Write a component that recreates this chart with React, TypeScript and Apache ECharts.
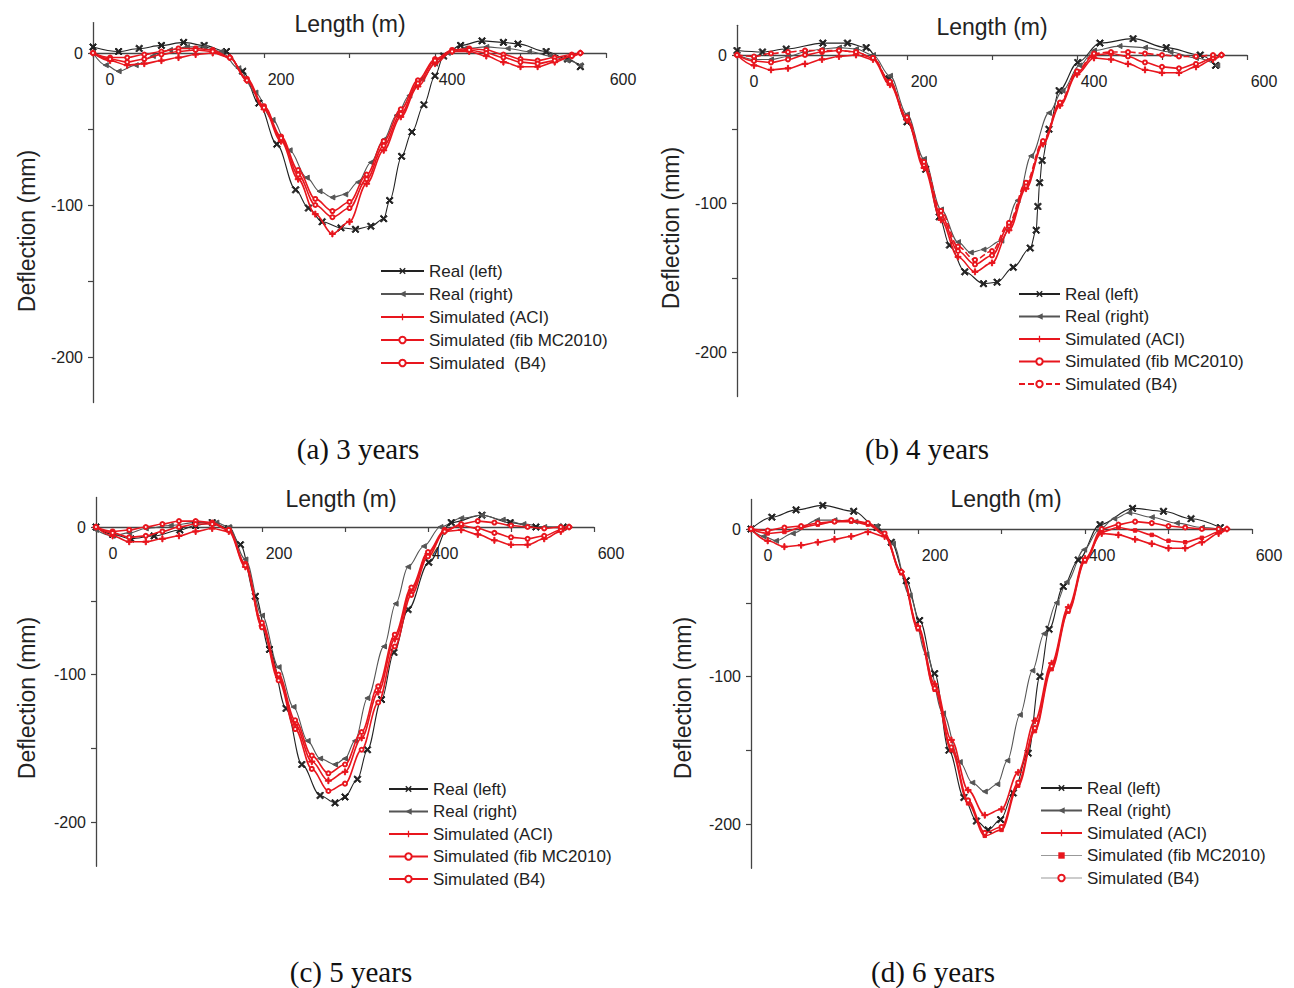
import React, { useEffect, useRef } from "react";
import * as echarts from "echarts";

// ---------- data ----------
const X_TICKS = [0, 100, 200, 300, 400, 500, 600];
const X_LABELS = [0, 200, 400, 600];
const Y_TICKS = [-200, -150, -100, -50, 0];
const Y_LABELS = [-200, -100, 0];
const Y_MIN = -230;
const Y_MAX = 20;

const SIM_X = [0, 20, 40, 60, 80, 100, 120, 140, 160, 180, 200, 220, 240, 260, 280, 300, 320, 340, 360, 380, 400, 420, 440, 460, 480, 500, 520, 540, 560, 570];

// (a) 3 years
const A_ACI = [0, -5, -8, -7, -5, -3, -1, 0, -3, -18, -37, -58, -83, -106, -119, -111, -86, -64, -42, -22, -7, 1, 1, -2, -6, -9, -9, -6, -2, 0];
const A_FIB = [0, -3, -3, -1, 1, 3, 3, 2, -3, -17, -35, -55, -77, -96, -104, -98, -80, -58, -37, -18, -4, 2, 3, 2, -1, -4, -5, -3, -1, 0];
const A_B4 = [0, -4, -6, -4, -1, 1, 2, 1, -3, -18, -36, -56, -80, -100, -108, -102, -83, -61, -40, -20, -5, 1, 2, 0, -3, -6, -7, -5, -2, 0];
const A_LEFT_X = [0, 30, 54, 80, 106, 130, 156, 175, 194, 215, 237, 252, 268, 290, 307, 325, 340, 347, 361, 373, 387, 400, 410, 430, 455, 480, 497, 530, 555, 570];
const A_LEFT_Y = [4, 1, 3, 5, 7, 5, 1, -12, -33, -60, -90, -102, -111, -115, -116, -114, -109, -97, -68, -52, -34, -15, -2, 5, 8, 7, 6, 1, -4, -9];
const A_RIGHT_X = [0, 15, 30, 50, 70, 90, 110, 130, 150, 170, 190, 210, 230, 250, 265, 280, 295, 310, 325, 340, 355, 370, 385, 400, 415, 435, 460, 485, 510, 535, 555, 570];
const A_RIGHT_Y = [0, -8, -12, -8, -2, 2, 4, 4, 1, -10, -26, -44, -64, -82, -91, -95, -93, -85, -72, -57, -41, -28, -17, -7, 0, 3, 4, 3, 1, -2, -5, -8];

// (b) 4 years
const B_ACI = [0, -7, -10, -9, -6, -3, -1, 0, -3, -20, -44, -76, -111, -136, -146, -140, -118, -90, -60, -34, -13, -2, -3, -6, -10, -12, -12, -8, -3, 0];
const B_FIB = [0, -4, -5, -3, 0, 2, 3, 2, -2, -19, -43, -74, -108, -132, -141, -135, -115, -88, -59, -33, -12, 0, 1, -1, -5, -8, -9, -6, -2, 0];
const B_B4 = [0, -1, 1, 2, 3, 3, 3, 2, -2, -18, -42, -72, -105, -129, -138, -132, -113, -86, -58, -32, -11, 1, 2, 2, 1, 0, -1, -1, 0, 0];
const B_LEFT_X = [0, 30, 58, 101, 130, 152, 179, 200, 222, 238, 250, 268, 290, 306, 325, 345, 352, 354, 356, 359, 367, 379, 401, 427, 466, 505, 545, 563];
const B_LEFT_Y = [3, 2, 4, 8, 8, 5, -16, -45, -77, -109, -128, -146, -154, -153, -143, -130, -118, -102, -86, -71, -50, -24, -5, 8, 11, 5, 0, -7];
const B_RIGHT_X = [0, 20, 40, 60, 80, 100, 120, 140, 160, 180, 200, 220, 240, 260, 275, 290, 311, 330, 346, 367, 383, 403, 420, 450, 480, 510, 540, 565];
const B_RIGHT_Y = [0, -3, -3, -1, 2, 4, 5, 4, 0, -14, -40, -70, -104, -126, -133, -131, -125, -98, -68, -39, -24, -7, 3, 6, 5, 2, -2, -7];

// (c) 5 years
const C_ACI = [0, -6, -10, -10, -8, -6, -3, -1, -3, -27, -67, -102, -134, -159, -172, -166, -143, -112, -76, -43, -18, -3, -2, -5, -9, -12, -12, -8, -3, 0];
const C_FIB = [0, -3, -2, 0, 2, 4, 4, 3, -2, -25, -65, -100, -131, -155, -167, -161, -139, -108, -73, -41, -17, -2, 1, -1, -4, -7, -8, -6, -2, 0];
const C_B4 = [0, -4, -7, -6, -3, 0, 2, 2, -2, -26, -68, -104, -137, -164, -179, -174, -151, -119, -81, -46, -20, -3, 2, 4, 3, 1, 0, -1, 0, 0];
const C_LEFT_X = [0, 20, 42, 70, 101, 120, 140, 160, 174, 192, 209, 229, 248, 270, 288, 300, 315, 327, 344, 359, 376, 401, 428, 465, 499, 530, 563];
const C_LEFT_Y = [0, -5, -8, -6, -2, 1, 3, -1, -12, -47, -83, -123, -161, -182, -187, -183, -171, -151, -117, -85, -56, -24, 3, 8, 3, 0, 0];
const C_RIGHT_X = [0, 20, 40, 60, 90, 120, 145, 160, 180, 200, 220, 238, 255, 270, 288, 300, 312, 327, 347, 361, 376, 395, 415, 440, 465, 490, 515, 540, 560];
const C_RIGHT_Y = [-2, -6, -4, -1, 1, 3, 3, 0, -22, -60, -95, -122, -145, -157, -161, -157, -145, -116, -81, -52, -27, -13, 0, 6, 8, 5, 2, 0, -1];

// (d) 6 years
const D_ACI = [0, -8, -12, -11, -9, -7, -5, -2, -5, -29, -66, -105, -143, -177, -194, -190, -165, -130, -91, -53, -20, -3, -4, -7, -10, -13, -13, -9, -3, 0];
const D_FIB = [0, -3, -2, 1, 3, 5, 5, 3, -4, -30, -68, -109, -150, -186, -208, -204, -174, -137, -95, -56, -22, -2, 1, -1, -4, -8, -9, -6, -2, 0];
const D_B4 = [0, -1, 1, 2, 4, 5, 6, 4, -3, -29, -67, -108, -148, -184, -206, -202, -172, -135, -93, -55, -21, 0, 3, 5, 4, 2, 1, 0, 0, 0];
const D_LEFT_X = [0, 25, 54, 86, 123, 151, 168, 186, 202, 220, 237, 255, 270, 284, 299, 314, 332, 346, 357, 374, 392, 418, 457, 494, 527, 562];
const D_LEFT_Y = [0, 8, 13, 16, 12, 1, -9, -35, -62, -98, -150, -182, -198, -204, -197, -179, -152, -100, -68, -39, -21, 3, 14, 12, 7, 1];
const D_RIGHT_X = [0, 15, 30, 50, 79, 100, 125, 150, 170, 190, 210, 230, 250, 265, 280, 295, 307, 322, 337, 351, 366, 378, 399, 416, 435, 453, 480, 510, 540, 560];
const D_RIGHT_Y = [0, -5, -8, -3, 6, 6, 5, 2, -10, -45, -85, -125, -158, -172, -178, -173, -157, -126, -96, -71, -50, -36, -14, -1, 7, 11, 8, 4, 1, 0];

const NAMES = ["Real (left)", "Real (right)", "Simulated (ACI)", "Simulated (fib MC2010)", "Simulated (B4)"];
const B4_NAME_A = "Simulated  (B4)";
const CAPTIONS = ["(a) 3 years", "(b) 4 years", "(c) 5 years", "(d) 6 years"];

// ---------- styles ----------
const SANS = "'Liberation Sans', Arial, sans-serif";
const SERIF = "'Liberation Serif', 'Times New Roman', serif";
const RED = "#e8161e";
const BLACK = "#222";
const GREY = "#555";
const AXIS = "#444";
const X_SYM = "path://M1.5,0L5,3.5L8.5,0L10,1.5L6.5,5L10,8.5L8.5,10L5,6.5L1.5,10L0,8.5L3.5,5L0,1.5Z";
const PLUS_SYM = "path://M4,0H6V4H10V6H6V10H4V6H0V4H4Z";
const LTRI_SYM = "path://M0,5L10,0L10,10Z";

const zip = (xs: number[], ys: number[]) => xs.map((x, i) => [x, ys[i]]);

function line(name: string, data: number[][], color: string, width: number, symbol: string, size: number, extra: any = {}) {
  return {
    type: "line",
    name,
    data,
    smooth: 0.35,
    smoothMonotone: "x",
    symbol,
    symbolSize: size,
    showAllSymbol: true,
    lineStyle: { color, width, ...(extra.lineStyle || {}) },
    itemStyle: { color, borderColor: color, ...(extra.itemStyle || {}) },
    emphasis: { disabled: true },
    z: extra.z || 2,
  };
}

type Panel = {
  frame: { left: number; top: number; w: number; h: number };
  grid: { left: number; top: number; width: number; height: number };
  legend: { left: number; top: number; itemWidth: number; itemGap: number };
  title: [number, number];
  yname: [number, number];
  caption: [number, number];
  captionText: string;
  series: any[];
  legendData: any[];
};

function makeSeries(
  leftX: number[], leftY: number[], rightX: number[], rightY: number[],
  aci: number[], fib: number[], b4: number[], b4Name: string, variant: string
) {
  return [
    line(NAMES[0], zip(leftX, leftY), BLACK, 1.1, X_SYM, 7),
    line(NAMES[1], zip(rightX, rightY), GREY, 1.1, LTRI_SYM, 5),
    line(NAMES[2], zip(SIM_X, aci), RED, 1.6, PLUS_SYM, 6, { z: 3 }),
    line(NAMES[3], zip(SIM_X, fib), RED, 1.6, variant === "d" ? "rect" : "emptyCircle", variant === "d" ? 3.5 : 4, { z: 3 }),
    line(b4Name, zip(SIM_X, b4), RED, 1.6, "emptyCircle", 4, {
      z: 3,
      lineStyle: variant === "b" ? { type: [6, 3] } : {},
    }),
  ];
}

const PANELS: Panel[] = [
  {
    frame: { left: 0, top: 0, w: 647, h: 480 },
    grid: { left: 93, top: 22.6, width: 513, height: 380 },
    legend: { left: 380, top: 261, itemWidth: 43, itemGap: 3 },
    title: [350, 24],
    yname: [27, 231],
    caption: [358, 449],
    captionText: CAPTIONS[0],
    series: makeSeries(A_LEFT_X, A_LEFT_Y, A_RIGHT_X, A_RIGHT_Y, A_ACI, A_FIB, A_B4, B4_NAME_A, "a"),
    legendData: [NAMES[0], NAMES[1], NAMES[2], NAMES[3], B4_NAME_A],
  },
  {
    frame: { left: 647, top: 0, w: 647, h: 480 },
    grid: { left: 90, top: 25.3, width: 510, height: 371.25 },
    legend: { left: 371, top: 284, itemWidth: 41, itemGap: 2.5 },
    title: [345, 27],
    yname: [24, 228],
    caption: [280, 449],
    captionText: CAPTIONS[1],
    series: makeSeries(B_LEFT_X, B_LEFT_Y, B_RIGHT_X, B_RIGHT_Y, B_ACI, B_FIB, B_B4, NAMES[4], "b"),
    legendData: NAMES,
  },
  {
    frame: { left: 0, top: 480, w: 647, h: 508 },
    grid: { left: 96, top: 17.5, width: 498, height: 368.75 },
    legend: { left: 388, top: 299, itemWidth: 39, itemGap: 2.5 },
    title: [341, 19],
    yname: [27, 218],
    caption: [351, 492],
    captionText: CAPTIONS[2],
    series: makeSeries(C_LEFT_X, C_LEFT_Y, C_RIGHT_X, C_RIGHT_Y, C_ACI, C_FIB, C_B4, NAMES[4], "c"),
    legendData: NAMES,
  },
  {
    frame: { left: 647, top: 480, w: 647, h: 508 },
    grid: { left: 104, top: 19.5, width: 501, height: 368.75 },
    legend: { left: 393, top: 298, itemWidth: 41, itemGap: 2.5 },
    title: [359, 19],
    yname: [36, 218],
    caption: [286, 492],
    captionText: CAPTIONS[3],
    series: makeSeries(D_LEFT_X, D_LEFT_Y, D_RIGHT_X, D_RIGHT_Y, D_ACI, D_FIB, D_B4, NAMES[4], "d"),
    legendData: [
      NAMES[0],
      NAMES[1],
      NAMES[2],
      { name: NAMES[3], lineStyle: { color: "#999", width: 1 } },
      { name: NAMES[4], lineStyle: { color: "#999", width: 1 } },
    ],
  },
];

function buildOption(p: Panel) {
  // the x axis sits on y = 0: push the top axis down by the pixel distance of Y_MAX
  const zeroOffset = (Y_MAX / (Y_MAX - Y_MIN)) * p.grid.height;
  return {
    animation: false,
    backgroundColor: "#fff",
    grid: { ...p.grid, containLabel: false, outerBoundsMode: "none" },
    xAxis: {
      type: "value",
      min: 0,
      max: 600,
      position: "top",
      offset: -zeroOffset,
      axisLine: { onZero: false, lineStyle: { color: AXIS, width: 1.3 } },
      axisTick: { show: true, inside: true, length: 5, customValues: X_TICKS, lineStyle: { color: AXIS, width: 1.2 } },
      axisLabel: {
        inside: true,
        customValues: X_LABELS,
        margin: 18,
        padding: [0, 0, 0, 34],
        color: BLACK,
        fontSize: 16,
        fontFamily: SANS,
      },
      splitLine: { show: false },
    },
    yAxis: {
      type: "value",
      min: Y_MIN,
      max: Y_MAX,
      axisLine: { show: true, onZero: false, lineStyle: { color: AXIS, width: 1.3 } },
      axisTick: { show: true, length: 5, customValues: Y_TICKS, lineStyle: { color: AXIS, width: 1.2 } },
      axisLabel: { customValues: Y_LABELS, margin: 10, color: BLACK, fontSize: 16, fontFamily: SANS },
      splitLine: { show: false },
    },
    legend: {
      orient: "vertical",
      left: p.legend.left,
      top: p.legend.top,
      itemWidth: p.legend.itemWidth,
      itemHeight: 8,
      itemGap: p.legend.itemGap,
      padding: 0,
      selectedMode: false,
      textStyle: { fontSize: 17, lineHeight: 20, color: BLACK, fontFamily: SANS },
      data: p.legendData,
    },
    graphic: [
      {
        type: "text",
        x: p.title[0],
        y: p.title[1],
        style: { text: "Length (m)", fill: BLACK, font: `23px ${SANS}`, align: "center", verticalAlign: "middle" },
      },
      {
        type: "text",
        x: p.yname[0],
        y: p.yname[1],
        rotation: Math.PI / 2,
        style: { text: "Deflection (mm)", fill: BLACK, font: `23px ${SANS}`, align: "center", verticalAlign: "middle" },
      },
      {
        type: "text",
        x: p.caption[0],
        y: p.caption[1],
        style: { text: p.captionText, fill: "#111", font: `29px ${SERIF}`, align: "center", verticalAlign: "middle" },
      },
    ],
    series: p.series,
  };
}

function Chart({ panel }: { panel: Panel }) {
  const ref = useRef<HTMLDivElement>(null);
  useEffect(() => {
    if (!ref.current) return;
    const chart = echarts.init(ref.current, null, { renderer: "svg" });
    chart.setOption(buildOption(panel) as any);
    return () => chart.dispose();
  }, [panel]);
  const f = panel.frame;
  return (
    <div
      ref={ref}
      style={{ position: "absolute", left: f.left, top: f.top, width: f.w, height: f.h }}
    />
  );
}

export default function App() {
  return (
    <div style={{ position: "absolute", left: 0, top: 0, width: 1294, height: 988, background: "#fff", overflow: "hidden" }}>
      {PANELS.map((p, i) => (
        <Chart key={i} panel={p} />
      ))}
    </div>
  );
}
